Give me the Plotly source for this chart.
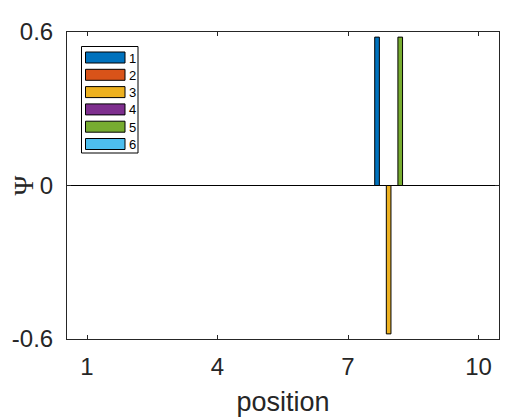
"""
Grouped bar chart of Psi by position (six series)
"""

import plotly.graph_objects as go

positions = [1, 2, 3, 4, 5, 6, 7, 8, 9, 10]
series_names = ['1', '2', '3', '4', '5', '6']
psi_1 = [0, 0, 0, 0, 0, 0, 0, 0.58, 0, 0]
psi_2 = [0, 0, 0, 0, 0, 0, 0, 0, 0, 0]
psi_3 = [0, 0, 0, 0, 0, 0, 0, -0.58, 0, 0]
psi_4 = [0, 0, 0, 0, 0, 0, 0, 0, 0, 0]
psi_5 = [0, 0, 0, 0, 0, 0, 0, 0.58, 0, 0]
psi_6 = [0, 0, 0, 0, 0, 0, 0, 0, 0, 0]
x_ticks = [1, 4, 7, 10]
y_ticks = [-0.6, 0, 0.6]

colors = ['#0072BD', '#D95319', '#EDB120', '#7E2F8E', '#77AC30', '#4DBEEE']

# the page body has an 8px margin, so the figure is shrunk and shifted to compensate
OFF = 8
W, H = 511 - OFF, 420 - OFF
L, R, T, B = 67 - OFF, 12, 32 - OFF, 81


def px_x(x):
    """window pixel x -> paper x"""
    return (x - OFF - L) / (W - L - R)


def px_y(y):
    """window pixel y -> paper y"""
    return (H - B - (y - OFF)) / (H - T - B)


fig = go.Figure()
for name, vals, col in zip(series_names, [psi_1, psi_2, psi_3, psi_4, psi_5, psi_6], colors):
    fig.add_trace(go.Bar(
        x=positions, y=vals, name=name,
        # zero-height bars get no outline, the baseline covers them
        marker=dict(color=col, line=dict(color='black',
                                         width=[1 if v != 0 else 0 for v in vals])),
        showlegend=False
    ))

# legend drawn by hand to get MATLAB-style wide swatches
shapes = [dict(type='rect', xref='paper', yref='paper',
               x0=px_x(81.5), x1=px_x(138), y0=px_y(153), y1=px_y(46.5),
               line=dict(color='black', width=1), fillcolor='white', layer='above')]
annotations = []
for i, (name, col) in enumerate(zip(series_names, colors)):
    top = 52 + i * 17.3
    shapes.append(dict(type='rect', xref='paper', yref='paper',
                       x0=px_x(85.5), x1=px_x(125), y0=px_y(top + 11), y1=px_y(top),
                       line=dict(color='black', width=1), fillcolor=col, layer='above'))
    annotations.append(dict(x=px_x(127), y=px_y(top + 6), xref='paper', yref='paper',
                            text=name, showarrow=False, xanchor='left', yanchor='middle',
                            font=dict(family='Liberation Sans', size=13, color='black')))

annotations.append(dict(x=px_x(23), y=0.5, xref='paper', yref='paper', text='Ψ',
                        showarrow=False, textangle=-90, xanchor='center', yanchor='middle',
                        font=dict(family='Liberation Serif', size=27, color='#262626')))

fig.update_layout(
    width=W, height=H,
    margin=dict(l=L, r=R, t=T, b=B),
    paper_bgcolor='white', plot_bgcolor='white',
    barmode='group', bargap=0.2, bargroupgap=0.2,
    shapes=shapes, annotations=annotations,
    font=dict(family='Liberation Sans', color='#262626'),
)
fig.update_xaxes(
    range=[0.54, 10.47], tickvals=x_ticks, ticktext=[str(v) for v in x_ticks],
    ticks='inside', ticklen=4, tickcolor='#262626', showgrid=False, zeroline=False,
    showline=True, linecolor='#262626', linewidth=1, mirror='ticks', automargin=False,
    tickfont=dict(size=24), ticklabelstandoff=6,
    title=dict(text='position', font=dict(size=27), standoff=13)
)
fig.update_yaxes(
    range=[-0.6, 0.6], tickvals=y_ticks, ticktext=['-0.6', '0', '0.6'],
    ticks='inside', ticklen=4, tickcolor='#262626', showgrid=False,
    zeroline=True, zerolinecolor='black', zerolinewidth=1,
    showline=True, linecolor='#262626', linewidth=1, mirror='ticks', automargin=False,
    tickfont=dict(size=24), ticklabelstandoff=8
)

fig.write_html("out.html")
